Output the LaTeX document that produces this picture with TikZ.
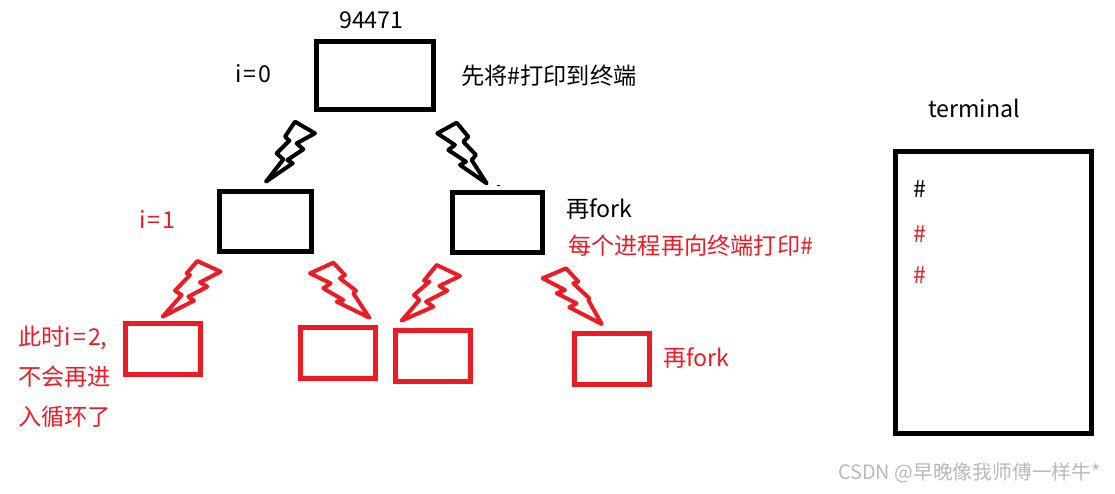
\documentclass[tikz,border=0pt]{standalone}
\usepackage{fontspec}
\setmainfont{Open Sans}
\newfontfamily\cjk{Noto Sans CJK SC}
\newfontfamily\cjkw[LetterSpace=9]{Noto Sans CJK SC}
\definecolor{rd}{HTML}{ED1C24}
\definecolor{wm}{HTML}{B9B9B9}
\tikzset{
 bx/.style={draw=black,line width=4.7pt,inner sep=0pt,minimum width=#1,anchor=north west},
 rbx/.style={draw=rd,line width=4.7pt,inner sep=0pt,minimum width=#1,anchor=north west},
 lab/.style={anchor=west,inner sep=0pt,font=\fontsize{23.2pt}{26pt}\selectfont\cjk},
 rlab/.style={lab,text=rd},
 bolt/.style={line width=4pt,line join=round},
}
\begin{document}
\begin{tikzpicture}[x=1pt,y=-1pt]
\useasboundingbox (0,0) rectangle (1115,493);
% boxes
\node[bx=117.3pt,minimum height=68pt] (p0) at (314,39) {};
\node[bx=92.3pt,minimum height=60pt] (c1) at (217,189) {};
\node[bx=90.3pt,minimum height=60pt] (c2) at (450,190) {};
\node[rbx=75pt,minimum height=51pt] (g1) at (123,321) {};
\node[rbx=75pt,minimum height=51pt] (g2) at (298,325) {};
\node[rbx=75pt,minimum height=51pt] (g3) at (393,328) {};
\node[rbx=75pt,minimum height=51pt] (g4) at (572,331) {};
\node[bx=196pt,minimum height=282pt] (term) at (893,149) {};
% bolts
\begin{scope}[shift={(230,100)},x=.3333pt,y=-.3333pt,bolt,draw=black]
\draw (108,245)--(160,178)--(140,160)--(178,122)--(165,110)--(195,65)--(255,100)--(200,130)--(220,148)--(172,180)--(188,190)--cycle;
\draw (680,68)--(622,100)--(675,135)--(655,150)--(708,185)--(690,195)--(770,250)--(725,180)--(738,165)--(700,125)--(715,110)--cycle;
\end{scope}
\begin{scope}[shift={(120,250)},x=.3333pt,y=-.3333pt,bolt,draw=rd]
\draw (128,200)--(185,135)--(165,122)--(210,75)--(200,70)--(232,33)--(302,65)--(240,97)--(262,110)--(205,140)--(222,152)--cycle;
\draw (640,38)--(570,70)--(632,100)--(610,115)--(670,150)--(650,155)--(748,203)--(700,130)--(708,122)--(660,85)--(675,75)--cycle;
\end{scope}
\begin{scope}[shift={(380,250)},x=.3333pt,y=-.3333pt,bolt,draw=rd]
\draw (65,212)--(118,150)--(102,135)--(148,95)--(132,92)--(170,45)--(240,78)--(178,108)--(202,122)--(138,155)--(160,170)--cycle;
\draw (558,55)--(488,85)--(555,120)--(530,130)--(590,160)--(568,172)--(665,222)--(625,150)--(628,145)--(580,100)--(595,95)--cycle;
\end{scope}
\fill (497,184.5) rectangle (500,185.5);
% texts
\node[lab] (t1) at (339,20) {94471};
\node[lab] (t2) at (235,74) {\cjkw i=0};
\node[lab] (t3) at (461,76) {先将\#打印到终端};
\node[lab] (t4) at (928,108) {terminal};
\node[rlab] (t5) at (139,220) {\cjkw i=1};
\node[lab] (t6) at (566,209) {再fork};
\node[rlab] (t7) at (568,246) {每个进程再向终端打印\#};
\node[rlab] (t8) at (663,358) {再fork};
\node[rlab] (t9) at (18,338) {此时{\cjkw i=2},};
\node[rlab] (t10) at (18,377) {不会再进};
\node[rlab] (t11) at (18,417) {入循环了};
\node[lab] (h1) at (913,189) {\#};
\node[rlab] (h2) at (913,234) {\#};
\node[rlab] (h3) at (913,275) {\#};
\node[lab,text=wm,font=\fontsize{19.8pt}{22pt}\selectfont\cjk] (wmk) at (838,473) {CSDN @早晚像我师傅一样牛*};
\end{tikzpicture}
\end{document}
